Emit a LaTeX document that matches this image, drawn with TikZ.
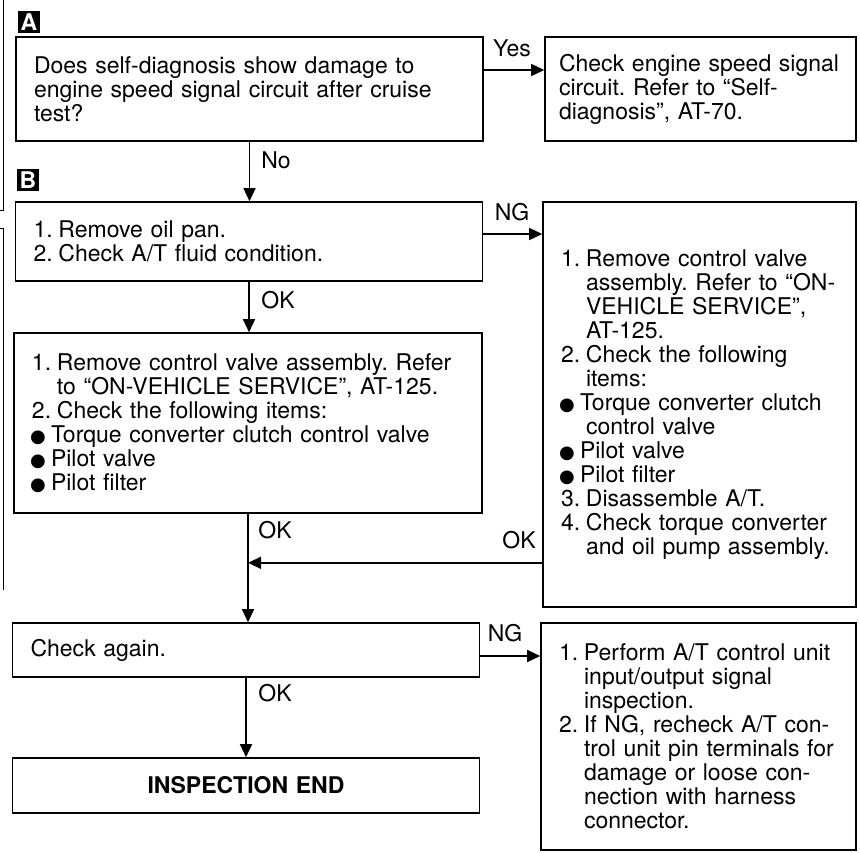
\documentclass[tikz,border=0pt]{standalone}
\usepackage{fontspec}
\setmainfont{TeX Gyre Heros}
\newfontfamily\symfont{DejaVu Sans}
\usetikzlibrary{arrows.meta}
\frenchspacing

\newcommand{\nr}[1]{\makebox[12.5pt][l]{#1}}
\newcommand{\bul}{\makebox[9.5pt][l]{\hspace*{-1pt}{\symfont\fontsize{9}{9}\selectfont ●}}}
\newcommand{\ind}{\hspace*{12.5pt}}

\begin{document}
\begin{tikzpicture}[x=0.5pt, y=-0.5pt,
    box/.style={draw, line width=0.8pt, align=left, inner xsep=9pt, inner ysep=0pt, font=\fontsize{11.5}{12}\selectfont},
    tag/.style={fill=black, text=white, font=\bfseries\fontsize{11.5}{11.5}\selectfont, minimum size=11pt, inner sep=0pt},
    lbl/.style={font=\fontsize{11.5}{12}\selectfont, inner sep=0pt},
    arr/.style={line width=0.7pt, -{Triangle[length=6.5pt,width=6pt]}},
    margin/.style={line width=0.5pt}]
        \useasboundingbox (0,0) rectangle (860,852);

        % side bars
        \draw[margin] (0,210) -- (3,210) -- (3,0);
        \draw[margin] (0,228) -- (3,228) -- (3,590);

        \node[tag] (tA) at (29,22) {A};
        \node[tag] (tB) at (28,180) {B};

        \node[box, text width=215.5pt, minimum height=52pt] (q) at (249.5,89) {Does self-diagnosis show damage to\\engine speed signal circuit after cruise\\test?};
        \node[box, inner xsep=7pt, text width=141.5pt, minimum height=52pt] (ck) at (700.5,89) {Check engine speed signal\\circuit. Refer to “Self-\\diagnosis”, AT-70.};
        \node[box, text width=215.5pt, minimum height=39.5pt] (b1) at (249,241.5) {\nr{1.}Remove oil pan.\\\nr{2.}Check A/T fluid condition.};
        \node[box, text width=138.5pt, minimum height=202.5pt] (r1) at (699.5,404.5) {\nr{1.}Remove control valve\\\ind assembly. Refer to “ON-\\\ind VEHICLE SERVICE”,\\\ind AT-125.\\\nr{2.}Check the following\\\ind items:\\\bul Torque converter clutch\\\ind control valve\\\bul Pilot valve\\\bul Pilot filter\\\nr{3.}Disassemble A/T.\\\nr{4.}Check torque converter\\\ind and oil pump assembly.};
        \node[box, text width=216pt, minimum height=90pt] (c) at (248,423) {\nr{1.}Remove control valve assembly. Refer\\\ind to “ON-VEHICLE SERVICE”, AT-125.\\\nr{2.}Check the following items:\\\bul Torque converter clutch control valve\\\bul Pilot valve\\\bul Pilot filter};
        \node[box, text width=215.5pt, minimum height=27pt] (chk) at (246,650) {Check again.};
        \node[box, text width=139.5pt, minimum height=113.5pt] (r2) at (698.5,736.5) {\nr{1.}Perform A/T control unit\\\ind input/output signal\\\ind inspection.\\\nr{2.}If NG, recheck A/T con-\\\ind trol unit pin terminals for\\\ind damage or loose con-\\\ind nection with harness\\\ind connector.};
        \node[box, align=center, text width=215.5pt, minimum height=27.5pt, font=\bfseries\fontsize{11.5}{12}\selectfont] (endb) at (246,785.5) {INSPECTION END};

        \node[lbl] (yes) at (512,48) {Yes};
        \node[lbl] (no) at (276,160) {No};
        \node[lbl] (ngA) at (512,212) {NG};
        \node[lbl] (okA) at (278,300) {OK};
        \node[lbl] (okB) at (275,530) {OK};
        \node[lbl] (okC) at (519,540) {OK};
        \node[lbl] (ngB) at (505,633) {NG};
        \node[lbl] (okD) at (275,693) {OK};

        \coordinate (pA) at ([yshift=9.5pt]q.east);
        \coordinate (pB) at ([yshift=3.75pt]b1.east);
        \coordinate (pC) at ([yshift=-3pt]chk.east);
        \path (c.south) ++(0,49) coordinate (jn);

        \draw[arr] (pA) -- (pA -| ck.west);
        \draw[arr] (q.south) -- (q.south |- b1.north);
        \draw[arr] (pB) -- (pB -| r1.west);
        \draw[arr] (b1.south) -- (b1.south |- c.north);
        \draw[arr] (c.south) -- (c.south |- chk.north);
        \draw[arr] (jn -| r1.west) -- (jn);
        \draw[arr] (pC) -- (pC -| r2.west);
        \draw[arr] (chk.south) -- (chk.south |- endb.north);
      \end{tikzpicture}
\end{document}
